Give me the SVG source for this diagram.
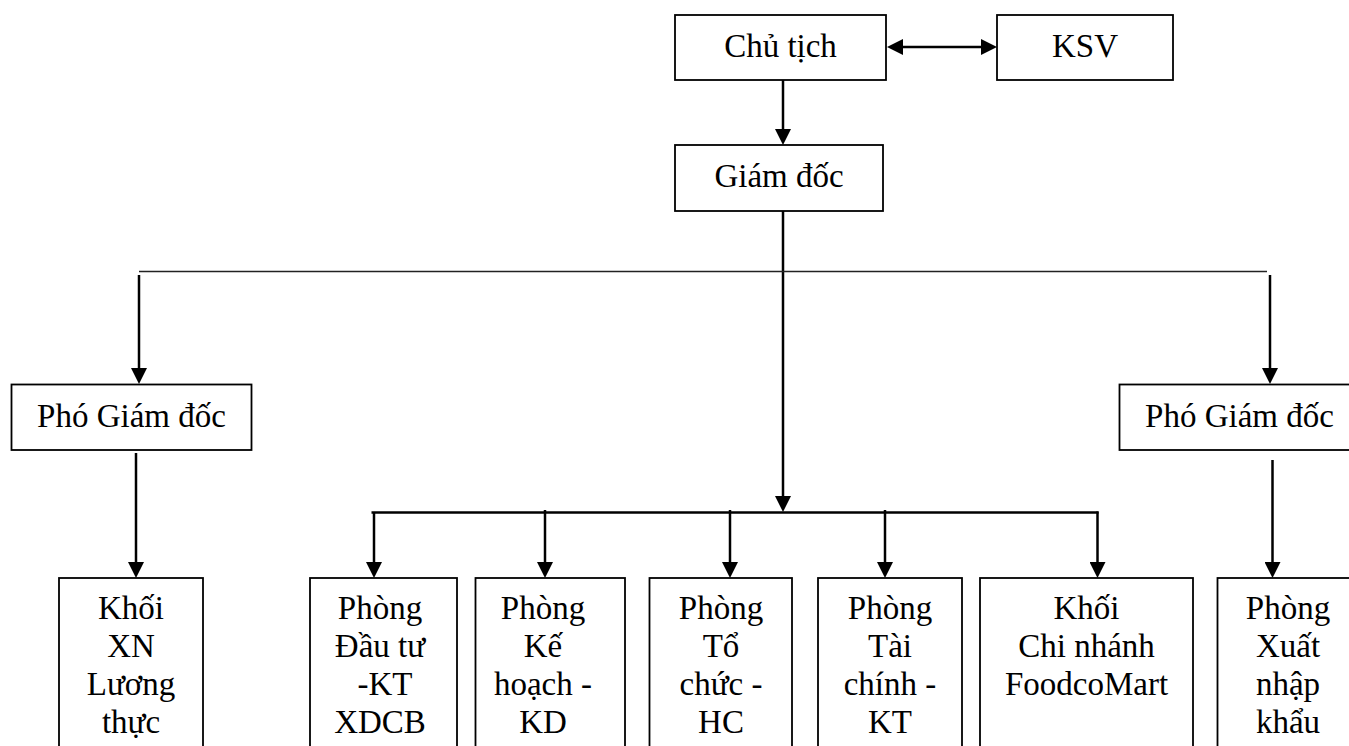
<svg xmlns="http://www.w3.org/2000/svg" width="1349" height="746" viewBox="0 0 1349 746">
<style>
.box{fill:#fff;stroke:#000;stroke-width:1.8}
.t{font-size:33px;fill:#000;text-anchor:middle}
.c{fill:none;stroke:#000;stroke-width:2.5}
.thin{fill:none;stroke:#222;stroke-width:1.6}
</style>
<defs>
<marker id="ah" viewBox="0 0 16 16" markerUnits="userSpaceOnUse" markerWidth="16" markerHeight="16" refX="11" refY="8" orient="auto-start-reverse">
<path d="M0,0 L16,8 L0,16 z" fill="#000"/>
</marker>
</defs>
<rect width="1349" height="746" fill="#fff"/>
<g id="connectors">
<line class="c" x1="892" y1="47" x2="992" y2="47" marker-start="url(#ah)" marker-end="url(#ah)"/>
<line class="c" x1="783" y1="80" x2="783" y2="140" marker-end="url(#ah)"/>
<line class="c" x1="783" y1="207" x2="783" y2="507" marker-end="url(#ah)"/>
<line class="thin" x1="139" y1="271.5" x2="1267" y2="271.5"/>
<line class="c" x1="139" y1="275" x2="139" y2="379" marker-end="url(#ah)"/>
<line class="c" x1="1270" y1="275" x2="1270" y2="379" marker-end="url(#ah)"/>
<line class="c" x1="136" y1="453" x2="136" y2="573" marker-end="url(#ah)"/>
<line class="c" x1="1272.5" y1="460" x2="1272.5" y2="573" marker-end="url(#ah)"/>
<line class="c" x1="371.5" y1="512.5" x2="1098.5" y2="512.5"/>
<line class="c" x1="374" y1="512" x2="374" y2="573" marker-end="url(#ah)"/>
<line class="c" x1="545" y1="510" x2="545" y2="573" marker-end="url(#ah)"/>
<line class="c" x1="730" y1="510" x2="730" y2="573" marker-end="url(#ah)"/>
<line class="c" x1="885" y1="510" x2="885" y2="573" marker-end="url(#ah)"/>
<line class="c" x1="1097.5" y1="511.5" x2="1097.5" y2="573" marker-end="url(#ah)"/>
</g>
<g font-family="Liberation Serif, Tinos, Times New Roman, DejaVu Serif, serif">
<g id="chu-tich">
<rect class="box" x="675" y="15" width="211" height="65"/>
<text class="t" x="780.5" y="57">Chủ tịch</text>
</g>
<g id="ksv">
<rect class="box" x="997" y="15" width="176" height="65"/>
<text class="t" x="1085" y="57">KSV</text>
</g>
<g id="giam-doc">
<rect class="box" x="675" y="145" width="208" height="66"/>
<text class="t" x="779" y="187">Giám đốc</text>
</g>
<g id="pho-giam-doc-trai">
<rect class="box" x="11.5" y="384.5" width="240" height="65.5"/>
<text class="t" x="131.5" y="427">Phó Giám đốc</text>
</g>
<g id="pho-giam-doc-phai">
<rect class="box" x="1119.5" y="384.5" width="240" height="65.5"/>
<text class="t" x="1239.5" y="427">Phó Giám đốc</text>
</g>
<g id="khoi-xn">
<rect class="box" x="59" y="578" width="144" height="190"/>
<text class="t" x="131" y="619">Khối</text>
<text class="t" x="131" y="657">XN</text>
<text class="t" x="131" y="695">Lương</text>
<text class="t" x="131" y="733">thực</text>
</g>
<g id="phong-dau-tu">
<rect class="box" x="310" y="578" width="147" height="190"/>
<text class="t" x="380" y="619">Phòng</text>
<text class="t" x="380" y="657">Đầu tư</text>
<text class="t" x="385" y="695">-KT</text>
<text class="t" x="380" y="733">XDCB</text>
</g>
<g id="phong-ke-hoach">
<rect class="box" x="475.5" y="578" width="149.5" height="190"/>
<text class="t" x="543" y="619">Phòng</text>
<text class="t" x="543" y="657">Kế</text>
<text class="t" x="543" y="695">hoạch -</text>
<text class="t" x="543" y="733">KD</text>
</g>
<g id="phong-to-chuc">
<rect class="box" x="649.5" y="578" width="142.5" height="190"/>
<text class="t" x="721" y="619">Phòng</text>
<text class="t" x="721" y="657">Tổ</text>
<text class="t" x="721" y="695">chức -</text>
<text class="t" x="721" y="733">HC</text>
</g>
<g id="phong-tai-chinh">
<rect class="box" x="818" y="578" width="144" height="190"/>
<text class="t" x="890" y="619">Phòng</text>
<text class="t" x="890" y="657">Tài</text>
<text class="t" x="890" y="695">chính -</text>
<text class="t" x="890" y="733">KT</text>
</g>
<g id="khoi-chi-nhanh">
<rect class="box" x="980" y="578" width="213" height="190"/>
<text class="t" x="1086.5" y="619">Khối</text>
<text class="t" x="1086.5" y="657">Chi nhánh</text>
<text class="t" x="1086.5" y="695">FoodcoMart</text>
</g>
<g id="phong-xuat-nhap-khau">
<rect class="box" x="1217.5" y="578" width="141" height="190"/>
<text class="t" x="1288" y="619">Phòng</text>
<text class="t" x="1288" y="657">Xuất</text>
<text class="t" x="1288" y="695">nhập</text>
<text class="t" x="1288" y="733">khẩu</text>
</g>
</g>
</svg>
